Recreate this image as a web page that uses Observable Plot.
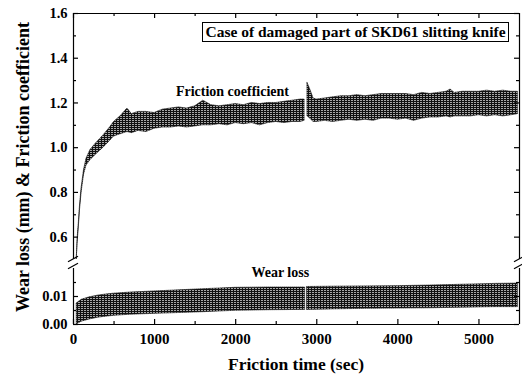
<!DOCTYPE html>
<html><head><meta charset="utf-8">
<script src="https://cdn.jsdelivr.net/npm/d3@7"></script>
<script src="https://cdn.jsdelivr.net/npm/@observablehq/plot@0.6"></script>
<style>
body{margin:0;background:#fff;}
#chart{position:relative;width:522px;height:375px;font-family:"Liberation Serif","Times New Roman",serif;font-weight:bold;color:#000;}
#chart svg{position:absolute;left:0;top:0;}
.t{position:absolute;white-space:nowrap;line-height:1;}
</style></head><body><div id="chart"></div>
<script>
// ---- data ----
const fricT  = [40,50,65,80,100,130,160,210,280,370,450,500,580,665,720,800,900,1000,1100,1200,1300,1400,1500,1600,1700,1800,1900,2000,2100,2200,2300,2400,2500,2600,2700,2800,2850,2865,2885,2920,2960,3000,3100,3200,3300,3400,3500,3600,3700,3800,3900,4000,4100,4200,4300,4400,4500,4600,4650,4700,4800,4900,5000,5100,5200,5300,5400,5480];
const fricLo = [0.50,0.57,0.64,0.72,0.80,0.88,0.92,0.945,0.97,1.00,1.03,1.05,1.06,1.07,1.065,1.075,1.07,1.085,1.09,1.09,1.095,1.09,1.095,1.10,1.10,1.105,1.10,1.11,1.105,1.11,1.10,1.11,1.115,1.11,1.115,1.115,1.12,NaN,1.14,1.13,1.115,1.115,1.12,1.115,1.12,1.125,1.12,1.125,1.12,1.13,1.13,1.125,1.13,1.12,1.13,1.135,1.135,1.14,1.135,1.14,1.14,1.14,1.145,1.14,1.145,1.14,1.145,1.15];
const fricHi = [0.50,0.59,0.66,0.74,0.82,0.90,0.95,0.99,1.02,1.055,1.09,1.115,1.14,1.175,1.15,1.16,1.16,1.155,1.17,1.175,1.18,1.175,1.185,1.21,1.19,1.185,1.19,1.195,1.19,1.20,1.195,1.20,1.20,1.205,1.21,1.215,1.215,NaN,1.29,1.26,1.22,1.215,1.22,1.225,1.23,1.23,1.235,1.23,1.235,1.24,1.24,1.24,1.24,1.235,1.245,1.24,1.245,1.25,1.26,1.245,1.25,1.25,1.25,1.255,1.25,1.255,1.25,1.25];

const wearT  = [40,100,200,300,400,500,700,1000,1300,1600,2000,2400,2800,2855,2865,2878,3200,3600,4000,4400,4800,5200,5480];
const wearLo = [0.0000,0.0010,0.0018,0.0024,0.0028,0.0031,0.0035,0.0038,0.0041,0.0044,0.0049,0.0051,0.0052,0.0052,NaN,0.0052,0.0054,0.0056,0.0057,0.0058,0.0060,0.0062,0.0062];
const wearHi = [0.0075,0.0088,0.0097,0.0103,0.0107,0.0110,0.0114,0.0118,0.0122,0.0126,0.0131,0.0132,0.0132,0.0132,NaN,0.0134,0.0135,0.0136,0.0137,0.0139,0.0142,0.0145,0.0146];

const xTicks = [0,1000,2000,3000,4000,5000];
const xMinor = [500,1500,2500,3500,4500];
const yTicksUpper = [0.6,0.8,1.0,1.2,1.4,1.6];
const yMinorUpper = [0.7,0.9,1.1,1.3,1.5];
const yTicksLower = [0,0.01];
const yMinorLower = [0.005,0.015];
const xTitle = "Friction time (sec)";
const yTitle = "Wear loss (mm) & Friction coefficient";
const boxLabel = "Case of damaged part of SKD61 slitting knife";
const fricLabel = "Friction coefficient";
const wearLabel = "Wear loss";

const fric = fricT.map((t,i)=>({t, lo:fricLo[i], hi:fricHi[i]}));
const wear = wearT.map((t,i)=>({t, lo:wearLo[i], hi:wearHi[i]}));

// ---- layout ----
const W=522, H=375, ML=73, MR=3;
const upTop=13, upBot=259, loTop=268, loBot=324;
const PW = W-ML-MR, PHu = upBot-upTop, PHl = loBot-loTop;
const xDomain=[0,5500];
const style = {background:"transparent", fontFamily:"Liberation Serif, Times New Roman, serif", fontWeight:"bold", fontSize:"14.5px", color:"#000", overflow:"visible"};
const sw = 1.2;

function frameTicks(yMaj, yMin, ph, top, bottom){
  const m = [
    Plot.tickY(yMaj, {y:d=>d, insetRight:PW-5, strokeWidth:sw}),
    Plot.tickY(yMin, {y:d=>d, insetRight:PW-3, strokeWidth:sw}),
    Plot.tickY(yMaj, {y:d=>d, insetLeft:PW-5, strokeWidth:sw}),
    Plot.tickY(yMin, {y:d=>d, insetLeft:PW-3, strokeWidth:sw})
  ];
  if (top) m.push(
    Plot.tickX(xTicks, {x:d=>d, insetBottom:ph-5, strokeWidth:sw}),
    Plot.tickX(xMinor, {x:d=>d, insetBottom:ph-3, strokeWidth:sw}));
  if (bottom) m.push(
    Plot.tickX(xTicks, {x:d=>d, insetTop:ph-5, strokeWidth:sw}),
    Plot.tickX(xMinor, {x:d=>d, insetTop:ph-3, strokeWidth:sw}));
  return m;
}

const upper = Plot.plot({
  width:W, height:H, marginLeft:ML, marginRight:MR, marginTop:upTop, marginBottom:H-upBot,
  x:{domain:xDomain, axis:null},
  y:{domain:[0.5,1.6]},
  style,
  marks:[
    Plot.areaY(fric, {x:"t", y1:"lo", y2:"hi", fill:"url(#hatchU)", stroke:"#111", strokeWidth:0.7, strokeDasharray:"1,1"}),
    Plot.ruleY([1.6], {strokeWidth:sw}),
    Plot.ruleX(xDomain, {strokeWidth:sw}),
    ...frameTicks(yTicksUpper, yMinorUpper, PHu, true, false),
    Plot.axisY({ticks:yTicksUpper, tickSize:0, tickPadding:6, tickFormat:d3.format(".1f"), label:null, fontSize:14.5}),
    Plot.text([fricLabel], {x:1960, y:1.252, text:d=>d, fontSize:14, fontWeight:"bold"})
  ]
});

const lower = Plot.plot({
  width:W, height:H, marginLeft:ML, marginRight:MR, marginTop:loTop, marginBottom:H-loBot,
  x:{domain:xDomain},
  y:{domain:[0,0.02]},
  style,
  marks:[
    Plot.areaY(wear, {x:"t", y1:"lo", y2:"hi", fill:"url(#hatchL)", stroke:"#111", strokeWidth:0.7, strokeDasharray:"1,1"}),
    Plot.ruleY([0], {strokeWidth:sw}),
    Plot.ruleX(xDomain, {strokeWidth:sw}),
    ...frameTicks(yTicksLower, yMinorLower, PHl, false, true),
    Plot.axisY({ticks:yTicksLower, tickSize:0, tickPadding:6, tickFormat:d3.format(".2f"), label:null, fontSize:14.5}),
    Plot.axisX({ticks:xTicks, tickSize:0, tickPadding:9, tickFormat:d=>String(d), label:null, fontSize:15}),
    Plot.text([wearLabel], {x:2550, y:0.0186, text:d=>d, fontSize:14, fontWeight:"bold"})
  ]
});

const NS="http://www.w3.org/2000/svg";
function addPattern(svg, id){
  const defs=document.createElementNS(NS,"defs");
  defs.innerHTML = `<pattern id="${id}" width="3" height="2" patternUnits="userSpaceOnUse">
    <rect width="3" height="2" fill="#111"/><rect x="0" y="0" width="2" height="1" fill="#a8a8a8"/></pattern>`;
  svg.insertBefore(defs, svg.firstChild);
}
function slash(svg, cx, cy){
  const l=document.createElementNS(NS,"line");
  l.setAttribute("x1",cx-5); l.setAttribute("y1",cy+2.8);
  l.setAttribute("x2",cx+5); l.setAttribute("y2",cy-2.8);
  l.setAttribute("stroke","#000"); l.setAttribute("stroke-width",sw);
  svg.appendChild(l);
}
addPattern(upper,"hatchU");
addPattern(lower,"hatchL");
const ux=upper.scale("x"), uy=upper.scale("y"), lx=lower.scale("x"), ly=lower.scale("y");
xDomain.forEach(v=>{ slash(upper, ux.apply(v), uy.apply(0.5)); slash(lower, lx.apply(v), ly.apply(0.02)-2); });

const chart=document.getElementById("chart");
chart.appendChild(upper);
chart.appendChild(lower);

function addText(txt, css){
  const d=document.createElement("div"); d.className="t"; d.textContent=txt;
  Object.assign(d.style, css); chart.appendChild(d); return d;
}
addText(xTitle, {left:"296px", top:"356px", fontSize:"17.5px", transform:"translateX(-50%)"});
addText(yTitle, {left:"23px", top:"167px", fontSize:"18px", transform:"translate(-50%,-50%) rotate(-90deg)"});
addText(boxLabel, {left:"202px", top:"22px", width:"305px", height:"18px", fontSize:"15.5px", textAlign:"center", border:"1px solid #000", lineHeight:"18px", background:"#fff"});
</script>
</body></html>
